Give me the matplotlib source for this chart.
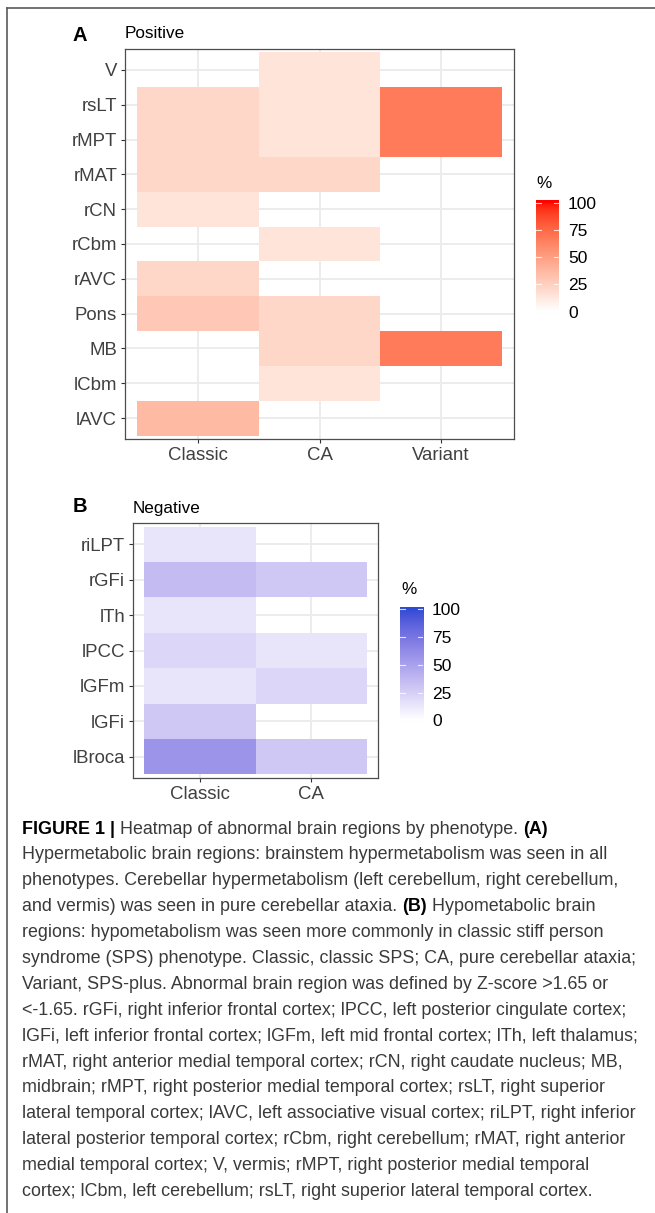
import matplotlib
matplotlib.use("Agg")
import matplotlib.pyplot as plt
import matplotlib.colors as mcolors
from matplotlib import font_manager
from matplotlib.lines import Line2D
import numpy as np

nan = np.nan

# ---- data (rows listed bottom -> top, as ggplot orders them) ----
regions_pos = ["lAVC", "lCbm", "MB", "Pons", "rAVC", "rCbm", "rCN", "rMAT", "rMPT", "rsLT", "V"]
phenotypes_pos = ["Classic", "CA", "Variant"]
classic_pos = [35.7, nan, nan, 28.6, 21.4, nan, 14.3, 21.4, 21.4, 21.4, nan]
ca_pos = [nan, 14.3, 21.4, 21.4, nan, 14.3, nan, 21.4, 14.3, 14.3, 14.3]
variant_pos = [nan, nan, 66.7, nan, nan, nan, nan, nan, 66.7, 66.7, nan]

regions_neg = ["lBroca", "lGFi", "lGFm", "lPCC", "lTh", "rGFi", "riLPT"]
phenotypes_neg = ["Classic", "CA"]
classic_neg = [57.1, 28.6, 14.3, 21.4, 14.3, 35.7, 14.3]
ca_neg = [28.6, nan, 21.4, 14.3, nan, 28.6, nan]

legend_ticks = [0, 25, 50, 75, 100]

caption_lines = [
    [("FIGURE 1 |", "bold"), ("Heatmap of abnormal brain regions by phenotype.", "normal"), ("(A)", "bold")],
    [("Hypermetabolic brain regions: brainstem hypermetabolism was seen in all", "normal")],
    [("phenotypes. Cerebellar hypermetabolism (left cerebellum, right cerebellum,", "normal")],
    [("and vermis) was seen in pure cerebellar ataxia.", "normal"), ("(B)", "bold"), ("Hypometabolic brain", "normal")],
    [("regions: hypometabolism was seen more commonly in classic stiff person", "normal")],
    [("syndrome (SPS) phenotype. Classic, classic SPS; CA, pure cerebellar ataxia;", "normal")],
    [("Variant, SPS-plus. Abnormal brain region was defined by Z-score >1.65 or", "normal")],
    [("<-1.65. rGFi, right inferior frontal cortex; lPCC, left posterior cingulate cortex;", "normal")],
    [("lGFi, left inferior frontal cortex; lGFm, left mid frontal cortex; lTh, left thalamus;", "normal")],
    [("rMAT, right anterior medial temporal cortex; rCN, right caudate nucleus; MB,", "normal")],
    [("midbrain; rMPT, right posterior medial temporal cortex; rsLT, right superior", "normal")],
    [("lateral temporal cortex; lAVC, left associative visual cortex; riLPT, right inferior", "normal")],
    [("lateral posterior temporal cortex; rCbm, right cerebellum; rMAT, right anterior", "normal")],
    [("medial temporal cortex; V, vermis; rMPT, right posterior medial temporal", "normal")],
    [("cortex; lCbm, left cerebellum; rsLT, right superior lateral temporal cortex.", "normal")],
]

# ---- helpers ----
W, H = 655, 1213
_M = np.array([[0.4124564, 0.3575761, 0.1804375],
               [0.2126729, 0.7151522, 0.0721750],
               [0.0193339, 0.1191920, 0.9503041]])
_WHITE = np.array([0.95047, 1.0, 1.08883])


def to_lab(c):
    rgb = np.array(mcolors.to_rgb(c))
    lin = np.where(rgb <= 0.04045, rgb / 12.92, ((rgb + 0.055) / 1.055) ** 2.4)
    xyz = _M @ lin / _WHITE
    f = np.where(xyz > 0.008856, np.cbrt(xyz), 7.787 * xyz + 16 / 116)
    return np.array([116 * f[1] - 16, 500 * (f[0] - f[1]), 200 * (f[1] - f[2])])


def from_lab(lab):
    fy = (lab[0] + 16) / 116
    f = np.array([fy + lab[1] / 500, fy, fy - lab[2] / 200])
    xyz = np.where(f ** 3 > 0.008856, f ** 3, (f - 16 / 116) / 7.787) * _WHITE
    lin = np.clip(np.linalg.inv(_M) @ xyz, 0, 1)
    return np.where(lin <= 0.0031308, 12.92 * lin, 1.055 * lin ** (1 / 2.4) - 0.055).clip(0, 1)


def lab_gradient(high, n=256):
    lo, hi = to_lab("white"), to_lab(high)
    cols = [from_lab(lo + (hi - lo) * t) for t in np.linspace(0, 1, n)]
    return mcolors.ListedColormap(cols)


def px_axes(fig, left, top, right, bottom):
    return fig.add_axes([left / W, 1 - bottom / H, (right - left) / W, (bottom - top) / H])


def heat_panel(fig, box, cols, rows, values, cmap):
    ax = px_axes(fig, *box)
    z = np.ma.masked_invalid(np.array(values).T)
    xe = np.arange(len(cols) + 1) + 0.5
    ye = np.arange(len(rows) + 1) + 0.5
    ax.pcolormesh(xe, ye, z, cmap=cmap, vmin=0, vmax=100, zorder=1)
    ax.set_xlim(0.4, len(cols) + 0.6)
    ax.set_ylim(0.4, len(rows) + 0.6)
    ax.set_xticks(np.arange(1, len(cols) + 1), cols)
    ax.set_yticks(np.arange(1, len(rows) + 1), rows)
    ax.set_axisbelow(True)
    ax.grid(True, color="#EBEBEB", linewidth=1.3, zorder=0)
    ax.tick_params(length=3.1, width=0.8, color="#333333", pad=2.5,
                   labelsize=13.4, labelcolor="#404040")
    for sp in ax.spines.values():
        sp.set_color("#4D4D4D")
        sp.set_linewidth(0.9)
    return ax


def colorbar_box(fig, left, right, y100, y0, cmap, title, title_xy):
    per = (y0 - y100) / 100.0
    lo, hi = -2.5, 102.5
    ax = px_axes(fig, left, y100 - (hi - 100) * per, right, y0 + (0 - lo) * per)
    grad = np.linspace(lo, hi, 300).reshape(-1, 1)
    ax.imshow(grad, cmap=cmap, vmin=0, vmax=100, aspect="auto",
              extent=(0, 1, lo, hi), origin="lower")
    ax.set_xlim(0, 1)
    ax.set_ylim(lo, hi)
    for v in legend_ticks:
        ax.plot([0, 0.2], [v, v], color="white", lw=0.8, alpha=0.8)
        ax.plot([0.8, 1], [v, v], color="white", lw=0.8, alpha=0.8)
    ax.set_xticks([])
    ax.set_yticks(legend_ticks, [str(v) for v in legend_ticks])
    ax.yaxis.tick_right()
    ax.tick_params(axis="y", length=0, pad=6.5, labelsize=12.5, labelcolor="black")
    for sp in ax.spines.values():
        sp.set_visible(False)
    fig.text(title_xy[0] / W, 1 - title_xy[1] / H, title, fontsize=12.3,
             ha="left", va="center")


plt.rcParams["font.family"] = ["Liberation Sans", "DejaVu Sans"]

fig = plt.figure(figsize=(W / 100, H / 100), dpi=100)

reds = lab_gradient("#FF0000")
blues = lab_gradient("#2F4CD6")

# ---- panel A ----
heat_panel(fig, (125, 49, 514, 439), phenotypes_pos, regions_pos,
           [classic_pos, ca_pos, variant_pos], reds)
fig.text(80 / W, 1 - 35.5 / H, "A", fontsize=14.5, fontweight="bold", ha="center", va="center")
fig.text(125 / W, 1 - 33 / H, "Positive", fontsize=12.3, ha="left", va="center")
colorbar_box(fig, 536, 559, 202.5, 311.7, reds, "%", (536, 183))

# ---- panel B ----
heat_panel(fig, (133, 523, 378, 778), phenotypes_neg, regions_neg,
           [classic_neg, ca_neg], blues)
fig.text(80 / W, 1 - 507 / H, "B", fontsize=14.5, fontweight="bold", ha="center", va="center")
fig.text(133 / W, 1 - 508 / H, "Negative", fontsize=12.3, ha="left", va="center")
colorbar_box(fig, 400, 423, 609.3, 720.4, blues, "%", (401, 590))

# ---- frame ----
fig.add_artist(Line2D([7 / W, 1], [1 - 8 / H, 1 - 8 / H], color="#5A5A5A", lw=1.2))
fig.add_artist(Line2D([7 / W, 7 / W], [1 - 8 / H, 0], color="#5A5A5A", lw=1.2))

# ---- caption ----
names = {f.name for f in font_manager.fontManager.ttflist}
cap_family = "Liberation Sans Narrow" if "Liberation Sans Narrow" in names else "Liberation Sans"
renderer = fig.canvas.get_renderer()


def text_w(s, size, weight="normal"):
    t = fig.text(0, 0, s, fontsize=size, fontweight=weight, family=cap_family)
    w = t.get_window_extent(renderer).width
    t.remove()
    return w


ref_line = caption_lines[7][0][0]
cap_size = 12 * 606 / text_w(ref_line, 12)
space_w = text_w("x x", cap_size) - text_w("xx", cap_size)

x0, y_first, step = 22, 829, 25.9
for i, segs in enumerate(caption_lines):
    x = x0
    y = 1 - (y_first + i * step) / H
    for s, weight in segs:
        t = fig.text(x / W, y, s, fontsize=cap_size, fontweight=weight, family=cap_family,
                     color="#3A3A3A" if weight == "normal" else "black",
                     ha="left", va="center")
        x += t.get_window_extent(renderer).width + space_w

fig.savefig("out.png", dpi=100)
